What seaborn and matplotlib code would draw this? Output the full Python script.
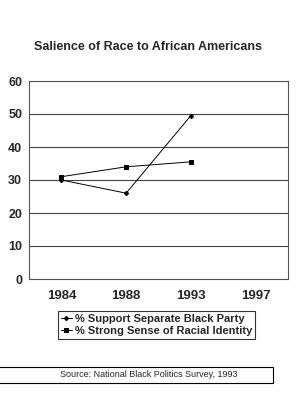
import matplotlib
matplotlib.use("Agg")
import matplotlib.pyplot as plt
import seaborn as sns
import pandas as pd
from matplotlib.patches import Rectangle

years = ["1984", "1988", "1993", "1997"]
support_years = ["1984", "1988", "1993"]
support_vals = [30, 26, 49.5]
identity_years = ["1984", "1988", "1993"]
identity_vals = [31, 34, 35.5]
series_names = ["% Support Separate Black Party", "% Strong Sense of Racial Identity"]
y_ticks = [0, 10, 20, 30, 40, 50, 60]

sns.set_theme(style="white")
plt.rcParams['font.family'] = ['Liberation Sans', 'DejaVu Sans']

rows = []
for y, v in zip(support_years, support_vals):
    rows.append({"pos": years.index(y), "value": v, "series": series_names[0]})
for y, v in zip(identity_years, identity_vals):
    rows.append({"pos": years.index(y), "value": v, "series": series_names[1]})
df = pd.DataFrame(rows)

fig = plt.figure(figsize=(3.03, 4.0), dpi=100)
ax = fig.add_axes([0.096, 0.3025, 0.854, 0.495])

sns.lineplot(data=df, x="pos", y="value", hue="series", style="series",
             palette=["black", "black"], markers=["D", "s"], dashes=False,
             markersize=2.2, linewidth=0.7, markeredgecolor="black", ax=ax, legend=True)

ax.set_xlim(-0.5, len(years) - 0.5)
ax.set_ylim(0, 60)
ax.set_yticks(y_ticks)
ax.set_yticklabels([str(t) for t in y_ticks], fontsize=9, fontweight="bold")
ax.set_xticks(range(len(years)))
ax.set_xticklabels(years, fontsize=9.5, fontweight="bold")
ax.set_xticks([i - 0.5 for i in range(len(years) + 1)], minor=True)
ax.tick_params(axis="x", which="major", length=0, pad=8)
ax.tick_params(axis="x", which="minor", length=4, width=0.8, color="black", direction="out")
ax.tick_params(axis="y", which="major", length=3, width=0.8, color="black", direction="out", pad=2)
ax.set_xlabel("")
ax.set_ylabel("")
for y in y_ticks:
    ax.axhline(y, color="#444444", linewidth=0.8, zorder=0)
for s in ax.spines.values():
    s.set_color("#555555")
    s.set_linewidth(0.8)

ax.set_title("Salience of Race to African Americans", fontsize=9, fontweight="bold",
             pad=22, x=0.46)

handles, labels = ax.get_legend_handles_labels()
ax.get_legend().remove()
leg = fig.legend(handles, labels, loc="center", bbox_to_anchor=(0.517, 0.1875),
                 frameon=True, fancybox=False, edgecolor="black",
                 prop={"weight": "bold", "size": 8}, handlelength=1.0, handletextpad=0.3,
                 borderpad=0.25, labelspacing=0.2)
leg.get_frame().set_linewidth(0.8)

fig.patches.append(Rectangle((-0.01, 0.043), 0.91, 0.04, transform=fig.transFigure,
                             fill=False, edgecolor="black", linewidth=0.8))
fig.text(0.49, 0.063, "Source: National Black Politics Survey, 1993", ha="center", va="center",
         fontsize=6.5)

fig.savefig("out.png", dpi=100)
